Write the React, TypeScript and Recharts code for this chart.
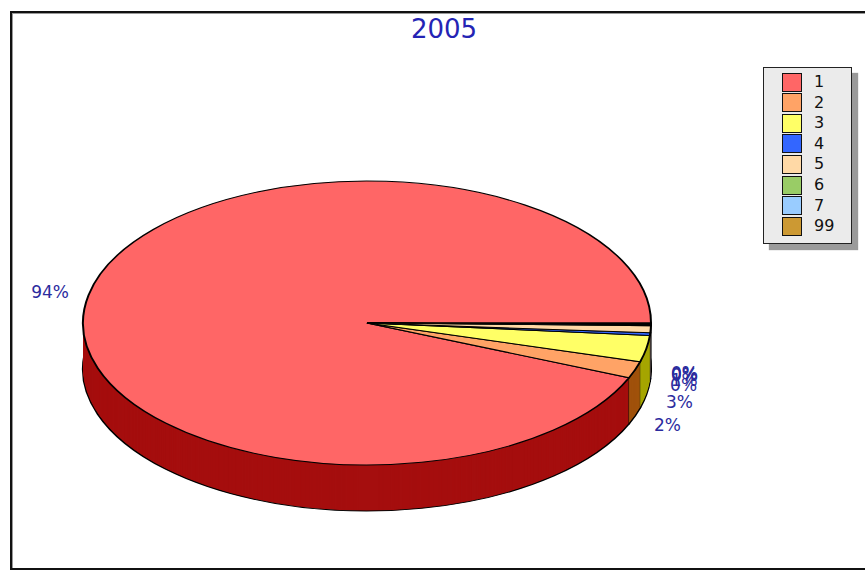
import { PieChart, Pie, Cell } from 'recharts';

const categories = ['1', '2', '3', '4', '5', '6', '7', '99'];
const shares = [93.7, 1.9, 3.0, 0.3, 0.8, 0.1, 0.1, 0.1];
const topColors = ['#FF6666', '#FFA366', '#FFFF66', '#3366FF', '#FFD9A6', '#99CC66', '#99CCFF', '#CC9933'];
const sideColors = ['#A50E0E', '#A0520C', '#A6A600', '#0A2FA6', '#A6772F', '#4F7A1F', '#2A6FAF', '#7A5A10'];

const data = categories.map((name, i) => ({ name, value: shares[i] }));

// pie is drawn in a 2x tall svg, then squashed by half to get the ellipse
// (recharts adds its 5px margin to cx / cy)
const CX = 362;
const CY = 641;
const R = 284;
const DEPTH = 92;
const layers: number[] = [];
for (let k = DEPTH - 2; k > 0; k -= 2) layers.push(k);

const total = shares.reduce((a, b) => a + b, 0);
// dash pattern that skips the outer arc and only strokes the two radii,
// so the side wall gets its black seams where slices meet
const sideDash = shares.map((v) => {
  const arc = R * ((v / total) * 2 * Math.PI);
  return `0 ${arc.toFixed(2)} ${2 * R}`;
});

const LABEL_COLOR = '#2b2b9e';
const FONT = "'DejaVu Sans', Verdana, sans-serif";

function renderLabel(props: any) {
  const { cx, cy, midAngle, percent, outerRadius } = props;
  const rad = (midAngle * Math.PI) / 180;
  const cos = Math.cos(rad);
  const sin = Math.sin(rad);
  const x = cx + (outerRadius + 20) * cos;
  const y = cy / 2 - (outerRadius / 2 + 16) * sin + (sin < 0 ? DEPTH / 2 + 4 : 0);
  return (
    <text
      x={x}
      y={y}
      transform="scale(1,2)"
      textAnchor={cos >= 0 ? 'start' : 'end'}
      dominantBaseline="central"
      fill={LABEL_COLOR}
      fontSize={17}
      fontFamily={FONT}
    >
      {`${Math.round(percent * 100)}%`}
    </text>
  );
}

export default function App() {
  return (
    <div
      style={{
        position: 'absolute',
        left: 0,
        top: 0,
        width: 865,
        height: 570,
        background: '#fff',
        overflow: 'hidden',
      }}
    >
      <div
        style={{
          position: 'absolute',
          left: 10,
          top: 11,
          width: 880,
          height: 555,
          border: '2px solid #111',
          boxShadow: 'inset 1px 1px 0 #999',
        }}
      />
      <div
        style={{
          position: 'absolute',
          left: 0,
          top: 14,
          width: 888,
          textAlign: 'center',
          fontFamily: FONT,
          fontSize: 26,
          color: '#2424b4',
        }}
      >
        2005
      </div>

      <div style={{ position: 'absolute', left: 0, top: 0, transform: 'scaleY(0.5)', transformOrigin: '0 0' }}>
        <PieChart width={865} height={1140}>
          <Pie
            data={data}
            dataKey="value"
            cx={CX}
            cy={CY + DEPTH}
            outerRadius={R}
            startAngle={0}
            endAngle={360}
            isAnimationActive={false}
          >
            {data.map((d, i) => (
              <Cell key={d.name} fill={sideColors[i]} stroke="#000" strokeWidth={2} />
            ))}
          </Pie>
          {layers.map((k) => (
            <Pie
              key={k}
              data={data}
              dataKey="value"
              cx={CX}
              cy={CY + k}
              outerRadius={R}
              startAngle={0}
              endAngle={360}
              isAnimationActive={false}
            >
              {data.map((d, i) => (
                <Cell
                  key={d.name}
                  fill={sideColors[i]}
                  stroke="#000"
                  strokeWidth={1.5}
                  strokeDasharray={sideDash[i]}
                />
              ))}
            </Pie>
          ))}
          <Pie
            data={data}
            dataKey="value"
            cx={CX}
            cy={CY}
            outerRadius={R}
            startAngle={0}
            endAngle={360}
            isAnimationActive={false}
            label={renderLabel}
            labelLine={false}
          >
            {data.map((d, i) => (
              <Cell key={d.name} fill={topColors[i]} stroke="#000" strokeWidth={2} />
            ))}
          </Pie>
        </PieChart>
      </div>

      <div
        style={{
          position: 'absolute',
          left: 763,
          top: 67,
          width: 87,
          height: 175,
          border: '1px solid #222',
          background: '#ebebeb',
          boxShadow: '6px 6px 1px #9a9a9a',
          fontFamily: FONT,
          fontSize: 16,
          color: '#111',
        }}
      >
        {categories.map((c, i) => (
          <div key={c} style={{ position: 'absolute', left: 18, top: 4 + i * 20.6, height: 20, display: 'flex', alignItems: 'center' }}>
            <div style={{ width: 18, height: 17, background: topColors[i], border: '1px solid #111' }} />
            <span style={{ marginLeft: 12, lineHeight: '20px' }}>{c}</span>
          </div>
        ))}
      </div>
    </div>
  );
}
